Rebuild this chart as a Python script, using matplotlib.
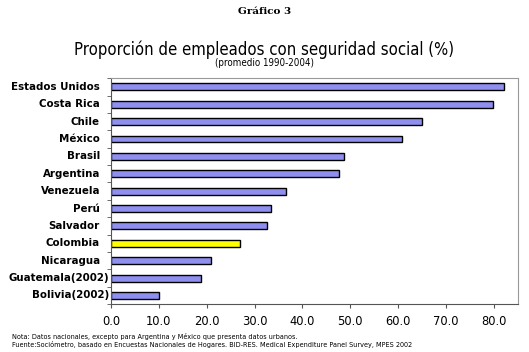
import matplotlib
matplotlib.use("Agg")
import matplotlib.pyplot as plt
import matplotlib.transforms as mtransforms
import numpy as np

countries = ["Estados Unidos", "Costa Rica", "Chile", "México", "Brasil", "Argentina",
             "Venezuela", "Perú", "Salvador", "Colombia", "Nicaragua", "Guatemala(2002)",
             "Bolivia(2002)"]
values = [82.0, 79.9, 64.9, 60.7, 48.6, 47.7, 36.5, 33.5, 32.6, 27.0, 20.9, 18.8, 10.1]
highlight = "Colombia"
xticks = [0, 10, 20, 30, 40, 50, 60, 70, 80]

fig = plt.figure(figsize=(5.29, 3.52), dpi=100)
ax = fig.add_axes([0.2098, 0.136, 0.7692, 0.642])

n = len(countries)
ypos = np.arange(n)[::-1]
colors = ["#ffff00" if c == highlight else "#8f8ff0" for c in countries]
ax.barh(ypos, values, height=0.4, color=colors, edgecolor="black", linewidth=1.0)

ax.set_xlim(0, 85)
ax.set_ylim(-0.5, n - 0.5)
ax.set_xticks(xticks)
ax.set_xticklabels([f"{v:.1f}" for v in xticks], fontsize=8.3, family="DejaVu Sans")
ax.set_yticks(ypos)
ax.set_yticklabels([])
ax.tick_params(axis="y", length=0)
ax.set_yticks(np.arange(-0.5, n, 1.0), minor=True)
ax.tick_params(axis="y", which="minor", length=3, color="#555555")
ax.tick_params(axis="x", length=3, color="#555555", pad=5)

blend = mtransforms.blended_transform_factory(ax.transAxes, ax.transData)
for name, y in zip(countries, ypos):
    dx = 2 if "(2002)" in name else 11
    tr = blend + mtransforms.ScaledTranslation(-dx / 100, 0, fig.dpi_scale_trans)
    ax.text(0, y, name, transform=tr, ha="right", va="center", fontsize=7.4,
            fontweight="bold", family="DejaVu Sans")

for side in ["top", "right"]:
    ax.spines[side].set_color("#999999")
    ax.spines[side].set_linewidth(0.8)
for side in ["left", "bottom"]:
    ax.spines[side].set_color("#555555")
    ax.spines[side].set_linewidth(0.8)

fig.text(0.5, 1 - 12 / 352, "Gráfico 3", ha="center", va="center", fontsize=7.5,
         fontweight="bold", family="DejaVu Serif")
fig.text(0.5, 1 - 55 / 352, "Proporción de empleados con seguridad social (%)",
         ha="center", va="baseline", fontsize=12, fontstretch="condensed",
         family=["DejaVu Sans"])
fig.text(0.5, 1 - 63.5 / 352, "(promedio 1990-2004)", ha="center", va="center", fontsize=7,
         fontstretch="condensed", family=["DejaVu Sans"])

fig.text(12 / 529, 1 - 336 / 352,
         "Nota: Datos nacionales, excepto para Argentina y México que presenta datos urbanos.",
         ha="left", va="center", fontsize=4.7, family="DejaVu Sans")
fig.text(12 / 529, 1 - 345 / 352,
         "Fuente:Sociómetro, basado en Encuestas Nacionales de Hogares. BID-RES. Medical Expenditure Panel Survey, MPES 2002",
         ha="left", va="center", fontsize=4.7, family="DejaVu Sans")

fig.savefig("out.png", dpi=100)
